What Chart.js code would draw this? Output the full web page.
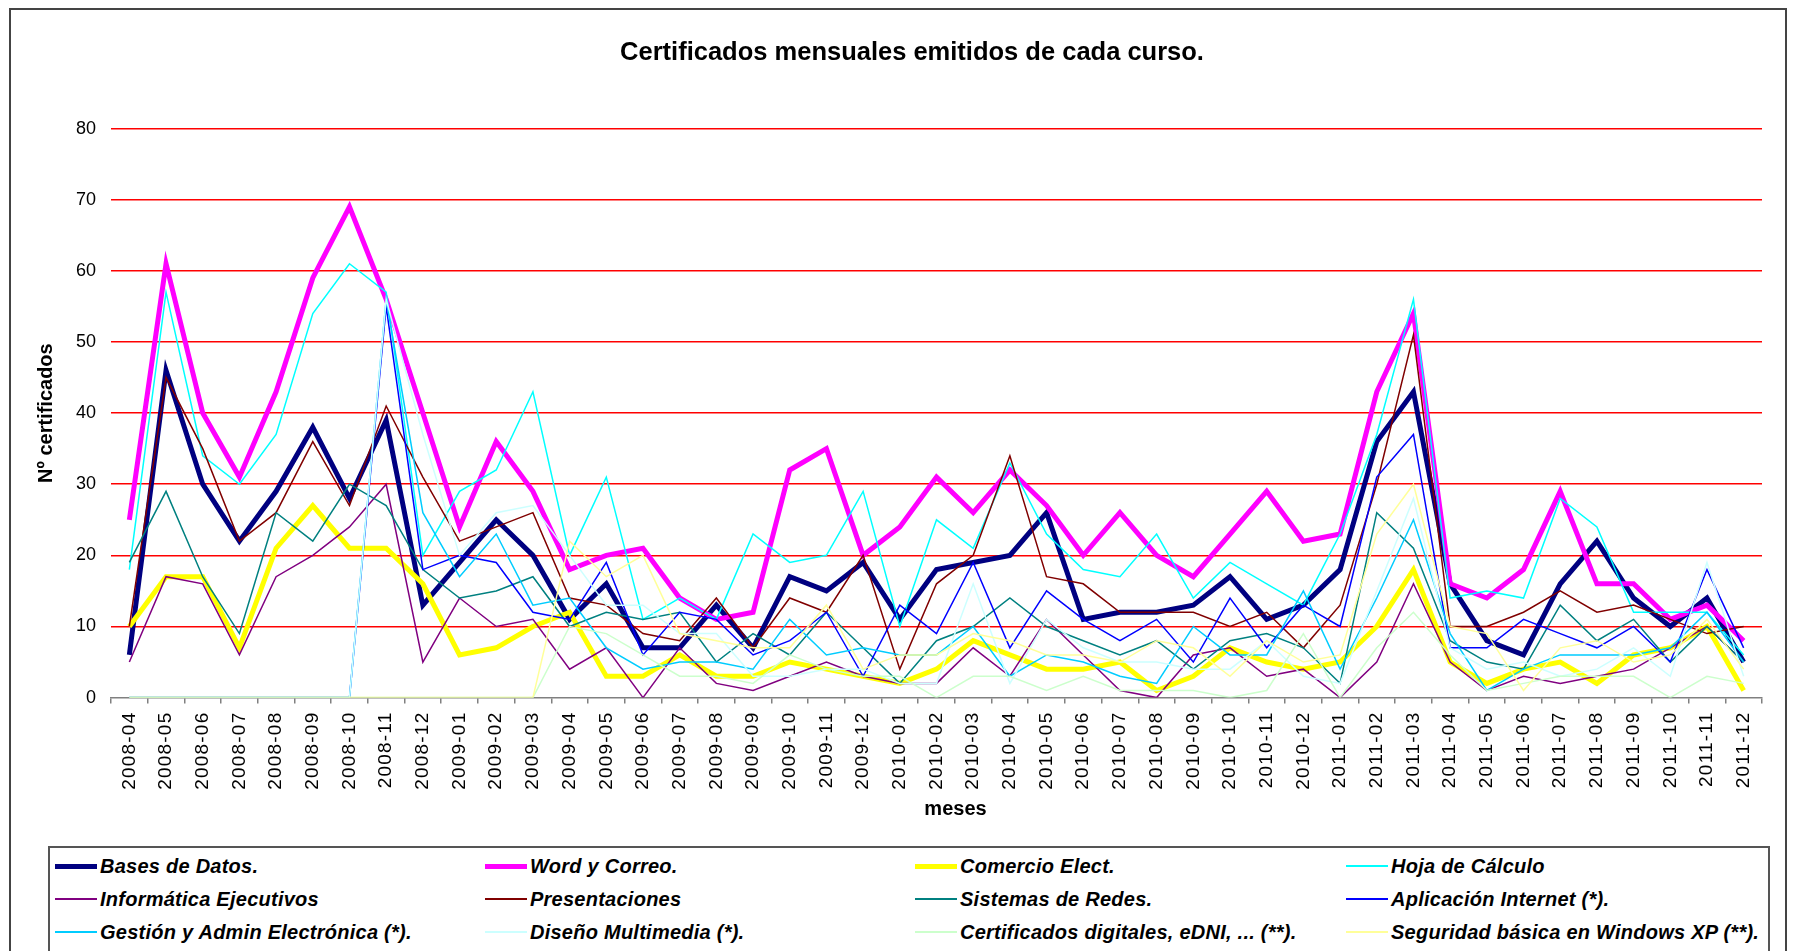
<!DOCTYPE html>
<html>
<head>
<meta charset="utf-8">
<script src="https://cdn.jsdelivr.net/npm/chart.js@4.4.1/dist/chart.umd.min.js"></script>
<style>
	body{ margin:0; background:#fff; font-family:"Liberation Sans", Arial, sans-serif; }
	#wrap{ position:absolute; left:0; top:0; width:1796px; height:951px; overflow:hidden; }
	#frame{ position:absolute; left:9px; top:8px; width:1778px; height:980px; border:2px solid #444; box-sizing:border-box; }
	#grafico{ position:absolute; left:0; top:0; }
	#leyenda{ position:absolute; left:48px; top:846px; width:1722px; height:110px; border:2px solid #555; box-sizing:border-box; background:#fff; }
	.txt{ position:absolute; font:italic bold 20px "Liberation Sans", Arial, sans-serif; letter-spacing:0.25px; color:#000; white-space:nowrap; line-height:24px; }
	.mark{ position:absolute; width:42px; }
</style>
</head>
<body>
<div id="wrap">
	<div id="frame"></div>
	<canvas id="grafico" width="1796" height="951"></canvas>
	<div id="leyenda"></div>
</div>
<script>
const FONT = '"Liberation Sans", Arial, sans-serif';
const TITULO = "Certificados mensuales emitidos de cada curso.";

//Meses (eje x).
const meses = [
	"2008-04","2008-05","2008-06","2008-07","2008-08","2008-09","2008-10","2008-11","2008-12",
	"2009-01","2009-02","2009-03","2009-04","2009-05","2009-06","2009-07","2009-08","2009-09","2009-10","2009-11","2009-12",
	"2010-01","2010-02","2010-03","2010-04","2010-05","2010-06","2010-07","2010-08","2010-09","2010-10","2010-11","2010-12",
	"2011-01","2011-02","2011-03","2011-04","2011-05","2011-06","2011-07","2011-08","2011-09","2011-10","2011-11","2011-12"
];

//Certificados por curso y mes.
const basesDatos     = [6,46,30,22,29,38,28,39,13,19,25,20,11,16,7,7,13,7,17,15,19,11,18,19,20,26,11,12,12,13,17,11,13,18,36,43,16,8,6,16,22,14,10,14,5];
const wordCorreo     = [25,61,40,31,43,59,69,56,40,24,36,29,18,20,21,14,11,12,32,35,20,24,31,26,32,27,20,26,20,17,23,29,22,23,43,54,16,14,18,29,16,16,11,13,8];
const comercio       = [10,17,17,7,21,27,21,21,16,6,7,10,12,3,3,6,3,3,5,4,3,2,4,8,6,4,4,5,1,3,7,5,4,5,10,18,5,2,4,5,2,6,7,10,1];
const hojaCalculo    = [18,57,34,30,37,54,61,57,20,29,32,43,20,31,11,14,11,23,19,20,29,10,25,21,33,23,18,17,23,14,19,16,13,23,37,56,14,15,14,28,24,12,12,12,6];
const informatica    = [5,17,16,6,17,20,24,30,5,14,10,11,4,7,0,7,2,1,3,5,3,2,2,7,3,11,6,1,0,6,7,3,4,0,5,16,5,1,3,2,3,4,7,10,5];
const presentaciones = [10,45,35,22,26,36,27,41,31,22,24,26,14,13,9,8,14,7,14,12,20,4,16,20,34,17,16,12,12,12,10,12,7,13,30,51,10,10,12,15,12,13,11,9,10];
const sistemas       = [19,29,17,9,26,22,30,27,18,14,15,17,10,12,11,12,5,9,6,12,7,2,8,10,14,10,8,6,8,4,8,9,7,2,26,21,8,5,4,13,8,11,5,10,5];
const aplicacion     = [0,0,0,0,0,0,0,55,18,20,19,12,11,19,6,12,11,6,8,12,3,13,9,19,7,15,11,8,11,5,14,7,13,10,31,37,7,7,11,9,7,10,5,18,7];
const gestion        = [0,0,0,0,0,0,0,56,26,17,23,13,14,7,4,5,5,4,11,6,7,6,6,10,3,6,5,3,2,10,6,6,15,4,14,25,9,1,4,6,6,6,7,12,5];
const diseno         = [0,0,0,0,0,0,0,56,37,20,26,27,20,13,13,9,9,3,3,4,4,2,2,16,2,11,7,5,5,4,4,8,3,2,15,28,7,4,5,3,4,7,3,19,3];
const certificados   = [0,0,0,0,0,0,0,0,0,0,0,0,10,9,6,3,3,2,6,4,3,3,0,3,3,1,3,1,1,1,0,1,9,0,7,12,6,1,2,3,3,3,0,3,2];
const seguridad      = [0,0,0,0,0,0,0,0,0,0,0,0,22,17,20,9,8,7,7,13,4,6,6,9,8,6,6,5,8,7,3,8,5,6,23,30,10,9,1,7,8,5,6,11,4];

const cursos = [
	"Bases de Datos.", "Word y Correo.", "Comercio Elect.", "Hoja de Cálculo",
	"Informática Ejecutivos", "Presentaciones", "Sistemas de Redes.", "Aplicación Internet (*).",
	"Gestión y Admin Electrónica (*).", "Diseño Multimedia (*).", "Certificados digitales, eDNI, ... (**).", "Seguridad básica en Windows XP (**)."
];
const series = [basesDatos, wordCorreo, comercio, hojaCalculo, informatica, presentaciones, sistemas, aplicacion, gestion, diseno, certificados, seguridad];
const colores = ["#000080", "#ff00ff", "#ffff00", "#00ffff", "#800080", "#800000", "#008080", "#0000ff", "#00ccff", "#ccffff", "#ccffcc", "#ffff99"];
const grosor = [5, 5, 5, 1.5, 1.5, 1.5, 1.5, 1.5, 1.5, 1.5, 1.5, 1.5];

Chart.defaults.font.family = FONT;
Chart.defaults.color = "#000";

//Como en Excel: la última serie queda encima.
const datasets = series.map((s, k) => ({
	label: cursos[k],
	data: s,
	borderColor: colores[k],
	backgroundColor: colores[k],
	borderWidth: grosor[k],
	pointRadius: 0,
	tension: 0,
	fill: false,
	order: series.length - k
}));

const chart = new Chart(document.getElementById("grafico"), {
	type: "line",
	data: { labels: meses, datasets: datasets },
	options: {
		responsive: false,
		animation: false,
		layout: { padding: { left: 34, right: 34, top: 0, bottom: 132 } },
		plugins: {
			legend: { display: false },
			tooltip: { enabled: false },
			title: {
				display: true,
				text: TITULO,
				font: { size: 25.5, weight: "bold" },
				color: "#000",
				padding: { top: 38, bottom: 60 }
			}
		},
		scales: {
			x: {
				offset: true,
				grid: { offset: true, drawOnChartArea: false, drawTicks: true, tickLength: 6, color: "#808080", lineWidth: 1.5 },
				border: { display: true, color: "#808080", width: 1.5 },
				ticks: { autoSkip: false, minRotation: 90, maxRotation: 90, padding: 8, font: { size: 19 }, color: "#000" },
				title: { display: true, text: "meses", font: { size: 20, weight: "bold" }, padding: 0 },
				afterFit: s => { s.height = 121.4; }
			},
			y: {
				min: 0,
				max: 80,
				ticks: { stepSize: 10, padding: 15, font: { size: 18 }, color: "#000" },
				grid: { drawTicks: false, lineWidth: 1.5, color: c => c.tick.value === 0 ? "rgba(0,0,0,0)" : "#ff0000" },
				border: { display: false },
				title: { display: true, text: "Nº certificados", font: { size: 20, weight: "bold" }, padding: 0 },
				afterFit: s => { s.width = 77; }
			}
		}
	}
});

//Ajustes finos: etiquetas espaciadas y títulos desplazados como en el original.
const ctx = chart.ctx;
const ejeX = chart.scales.x;
const etiquetas = ejeX.drawLabels.bind(ejeX);
const tituloX = ejeX.drawTitle.bind(ejeX);
ejeX.drawLabels = function(area){
	ctx.save();
	ctx.letterSpacing = "1.2px";
	etiquetas(area);
	ctx.restore();
};
ejeX.drawTitle = function(){
	ctx.save();
	ctx.translate(19, 2);
	tituloX();
	ctx.restore();
};
const bloque = chart.titleBlock;
const tituloG = bloque.draw.bind(bloque);
bloque.draw = function(area){
	ctx.save();
	ctx.translate(14, 0);
	tituloG(area);
	ctx.restore();
};
chart.draw();

//Leyenda en cuadrícula de 4 columnas.
const COL_X = [50, 480, 910, 1341];
const FILA_Y = [18, 51, 84];
const leyenda = document.getElementById("leyenda");
cursos.forEach((nombre, k) => {
	const x = COL_X[k % 4];
	const y = FILA_Y[Math.floor(k / 4)];

	const m = document.createElement("div");
	m.className = "mark";
	m.style.left = (x - 45) + "px";
	m.style.height = (grosor[k] > 2 ? 5 : 2) + "px";
	m.style.top = (y - (grosor[k] > 2 ? 2.5 : 1)) + "px";
	m.style.background = colores[k];
	leyenda.appendChild(m);

	const t = document.createElement("div");
	t.className = "txt";
	t.style.left = x + "px";
	t.style.top = (y - 12) + "px";
	t.textContent = nombre;
	leyenda.appendChild(t);
});
</script>
</body>
</html>
